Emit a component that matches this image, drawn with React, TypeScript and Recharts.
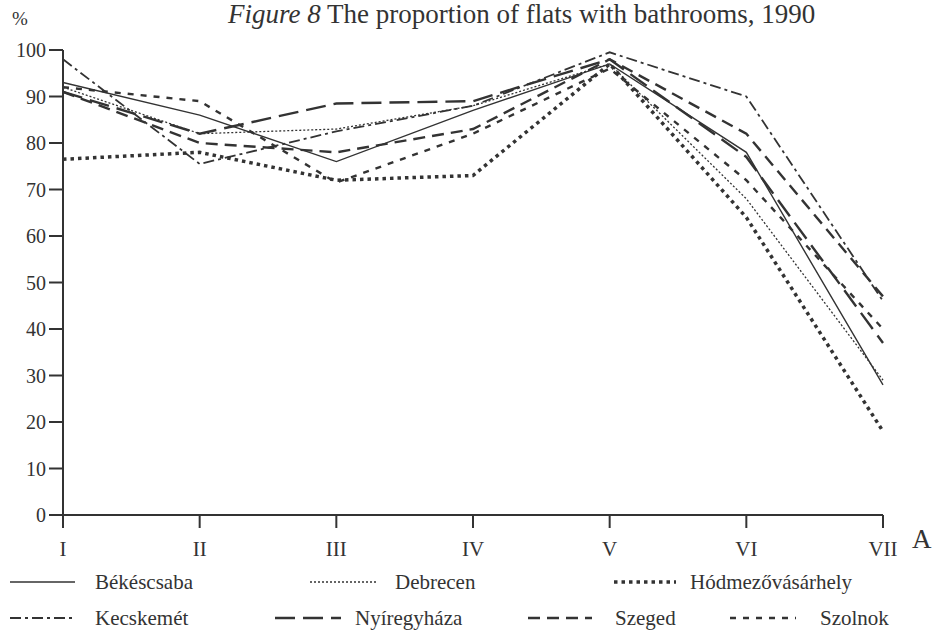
import { LineChart, Line, XAxis, YAxis } from "recharts";

// districts along the x axis
const categories = ["I", "II", "III", "IV", "V", "VI", "VII"];

// share of flats with bathrooms, %
const bekescsaba = [93, 86, 76, 87, 97, 78, 28];
const debrecen = [92, 82, 83, 88, 97, 68, 29];
const hodmezovasarhely = [76.5, 78, 72, 73, 97, 64, 18];
const kecskemet = [98, 75.5, 82.5, 88, 99.5, 90, 46];
const nyiregyhaza = [91, 82, 88.5, 89, 98, 77, 37];
const szeged = [91, 80, 78, 83, 98, 82, 47];
const szolnok = [92, 89, 71.5, 82, 96, 72, 40];

const yTicks = [0, 10, 20, 30, 40, 50, 60, 70, 80, 90, 100];

const INK = "#333";
const FONT = "Liberation Serif";

const series = [
  { key: "Békéscsaba", values: bekescsaba, dash: undefined, width: 1.4 },
  { key: "Debrecen", values: debrecen, dash: "2 2", width: 1.3 },
  { key: "Hódmezővásárhely", values: hodmezovasarhely, dash: "3.5 4", width: 3.5 },
  { key: "Kecskemét", values: kecskemet, dash: "11 4 3 4", width: 1.8 },
  { key: "Nyíregyháza", values: nyiregyhaza, dash: "20 8", width: 2.4 },
  { key: "Szeged", values: szeged, dash: "12 7", width: 2.4 },
  { key: "Szolnok", values: szolnok, dash: "6 7", width: 2.4 },
];

const chartData = categories.map((c, i) => {
  const row: Record<string, string | number> = { cat: c };
  series.forEach((s) => {
    row[s.key] = s.values[i];
  });
  return row;
});

/* ------------------------------------------------------------------ */
/* legend laid out in two rows like the printed figure                 */
/* ------------------------------------------------------------------ */

const legendRows = [
  [
    { key: "Békéscsaba", x: 10, len: 65, textX: 95 },
    { key: "Debrecen", x: 310, len: 68, textX: 395 },
    { key: "Hódmezővásárhely", x: 614, len: 62, textX: 690 },
  ],
  [
    { key: "Kecskemét", x: 10, len: 65, textX: 95 },
    { key: "Nyíregyháza", x: 275, len: 66, textX: 355 },
    { key: "Szeged", x: 528, len: 64, textX: 615 },
    { key: "Szolnok", x: 730, len: 66, textX: 820 },
  ],
];

function LegendBlock() {
  return (
    <svg width={933} height={80} style={{ position: "absolute", left: 0, top: 562 }}>
      {legendRows.map((row, r) =>
        row.map((item) => {
          const s = series.find((q) => q.key === item.key)!;
          const y = 20 + r * 36;
          return (
            <g key={item.key}>
              <line
                x1={item.x}
                x2={item.x + item.len}
                y1={y}
                y2={y}
                stroke={INK}
                strokeWidth={s.width}
                strokeDasharray={s.dash}
              />
              <text x={item.textX} y={y + 7} fill={INK} style={{ fontFamily: FONT, fontSize: 21 }}>
                {item.key}
              </text>
            </g>
          );
        })
      )}
    </svg>
  );
}

export default function App() {
  return (
    <div
      style={{
        position: "absolute",
        left: 0,
        top: 0,
        width: 933,
        height: 636,
        overflow: "hidden",
        background: "#fff",
        fontFamily: FONT,
      }}
    >
      <div
        style={{
          position: "absolute",
          left: 228,
          top: 0,
          fontSize: 27,
          color: INK,
          whiteSpace: "nowrap",
          lineHeight: "28px",
        }}
      >
        <i>Figure 8</i> The proportion of flats with bathrooms, 1990
      </div>
      <div style={{ position: "absolute", left: 12, top: 8, fontSize: 19, color: INK }}>%</div>
      <div style={{ position: "absolute", left: 912, top: 524, fontSize: 27, color: INK }}>A</div>
      <LineChart
        width={933}
        height={636}
        data={chartData}
        margin={{ top: 50, right: 50, bottom: 91, left: 13 }}
        style={{ fontFamily: FONT }}
      >
        <XAxis
          dataKey="cat"
          axisLine={{ stroke: INK, strokeWidth: 2 }}
          tickLine={{ stroke: INK, strokeWidth: 2 }}
          tickSize={13}
          tickMargin={13}
          interval={0}
          height={30}
          tick={{ fontSize: 21, fill: INK, fontFamily: FONT }}
        />
        <YAxis
          domain={[0, 100]}
          ticks={yTicks}
          width={50}
          axisLine={{ stroke: INK, strokeWidth: 2 }}
          tickLine={{ stroke: INK, strokeWidth: 2 }}
          tickSize={14}
          tickMargin={3}
          interval={0}
          tick={{ fontSize: 20, fill: INK, fontFamily: FONT }}
        />
        {series.map((s) => (
          <Line
            key={s.key}
            type="linear"
            dataKey={s.key}
            stroke={INK}
            strokeWidth={s.width}
            strokeDasharray={s.dash}
            dot={false}
            activeDot={false}
            isAnimationActive={false}
          />
        ))}
      </LineChart>
      <LegendBlock />
    </div>
  );
}
